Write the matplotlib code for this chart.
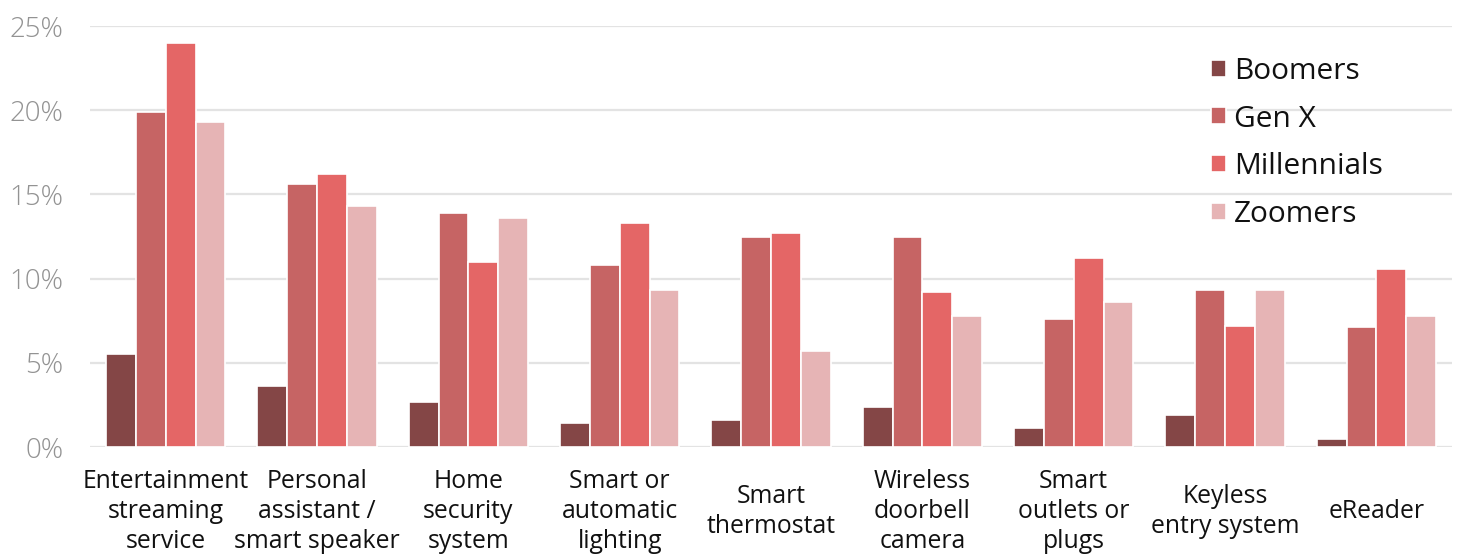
import matplotlib
matplotlib.use("Agg")
import matplotlib.pyplot as plt
import numpy as np
from matplotlib.ticker import FuncFormatter

categories = ["Entertainment\nstreaming\nservice", "Personal\nassistant /\nsmart speaker",
              "Home\nsecurity\nsystem", "Smart or\nautomatic\nlighting", "Smart\nthermostat",
              "Wireless\ndoorbell\ncamera", "Smart\noutlets or\nplugs", "Keyless\nentry system",
              "eReader"]
series_names = ["Boomers", "Gen X", "Millennials", "Zoomers"]
boomers = [5.5, 3.6, 2.7, 1.4, 1.6, 2.4, 1.1, 1.9, 0.5]
genx = [19.9, 15.6, 13.9, 10.8, 12.5, 12.5, 7.6, 9.3, 7.1]
millennials = [24.0, 16.2, 11.0, 13.3, 12.7, 9.2, 11.2, 7.2, 10.6]
zoomers = [19.3, 14.3, 13.6, 9.3, 5.7, 7.8, 8.6, 9.3, 7.8]
yticks = [0, 5, 10, 15, 20, 25]

colors = ["#844646", "#C66464", "#E46666", "#E6B4B5"]

plt.rcParams['font.family'] = ['Open Sans', 'DejaVu Sans']

fig = plt.figure(figsize=(14.57, 5.54), dpi=100)
ax = fig.add_axes([0.0618, 0.1931, 0.9348, 0.7599])

x = np.arange(len(categories))
w = 0.197
data = [boomers, genx, millennials, zoomers]
for i, (name, vals) in enumerate(zip(series_names, data)):
    ax.bar(x + (i - 1.5) * w, vals, width=w, color=colors[i], label=name,
           edgecolor="white", linewidth=1.2, zorder=3)

ax.set_xlim(-0.5, len(categories) - 0.5)
ax.set_ylim(0, 25)
ax.set_yticks(yticks)
ax.yaxis.set_major_formatter(FuncFormatter(lambda v, p: f"{int(v)}%"))
ax.grid(axis="y", color="#e3e3e3", linewidth=1.6, zorder=0)
for s in ax.spines.values():
    s.set_visible(False)
ax.tick_params(axis="y", length=0, pad=19, labelsize=20, labelcolor="#939393")
for t in ax.get_yticklabels():
    t.set_fontweight("light")
ax.set_xticks(x)
ax.set_xticklabels(categories, fontsize=17.8, color="#111111", linespacing=1.26)
ax.tick_params(axis="x", length=0, pad=46.5)
for t in ax.get_xticklabels():
    t.set_verticalalignment("center")

leg = ax.legend(loc="upper left", bbox_to_anchor=(0.823, 0.927), frameon=False,
                fontsize=21.5, handlelength=0.5, handleheight=0.5, handletextpad=0.27,
                labelspacing=0.63, borderaxespad=0, borderpad=0)
for t in leg.get_texts():
    t.set_color("#111111")

fig.savefig("out.png", dpi=100, facecolor="white")
